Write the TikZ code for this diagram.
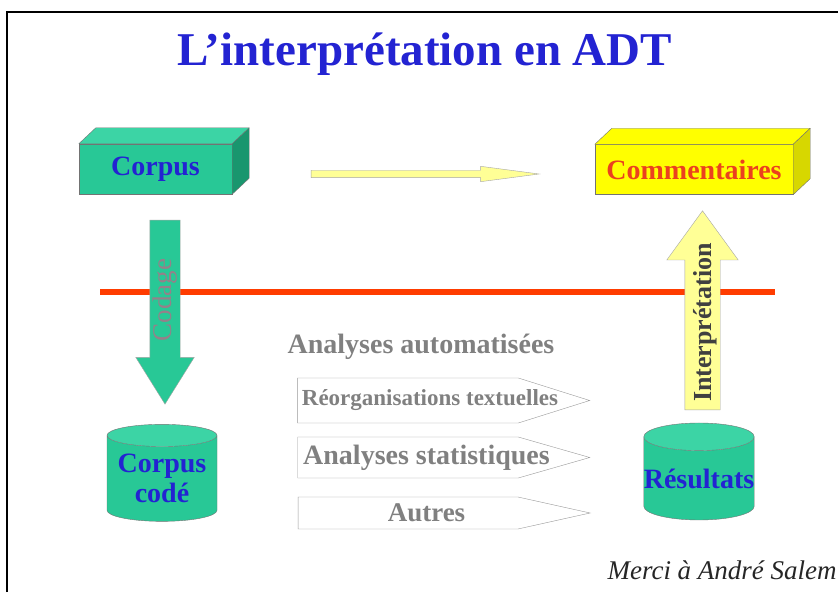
\documentclass[tikz,border=0pt]{standalone}
\usepackage{fontspec}
\setmainfont{Liberation Serif}
\usepackage{tikz}
\usetikzlibrary{shapes.geometric}
\usetikzlibrary{shapes.arrows}
\usetikzlibrary{shapes.symbols}
\usetikzlibrary{positioning}
\definecolor{adtblue}{RGB}{35,35,210}
\definecolor{adtteal}{RGB}{40,200,150}
\definecolor{adttealdark}{RGB}{25,150,110}
\definecolor{adttealtop}{RGB}{60,212,165}
\definecolor{adtyellow}{RGB}{255,255,0}
\definecolor{adtyellowdark}{RGB}{215,215,0}
\definecolor{adtpale}{RGB}{255,255,150}
\definecolor{adtred}{RGB}{235,65,30}
\definecolor{adtline}{RGB}{255,60,0}
\definecolor{adtgray}{RGB}{128,128,128}
\definecolor{adtmauve}{RGB}{150,128,138}
\tikzstyle{boxfront} = [rectangle, minimum height=50pt, inner sep=0pt, draw=black!55, font=\fontsize{28}{30}\selectfont\bfseries]
\tikzstyle{boxface} = [draw=black!55, line join=round]
\tikzstyle{store} = [cylinder, shape border rotate=90, aspect=0.25, draw=black!55, cylinder uses custom fill, cylinder body fill=adtteal, cylinder end fill=adttealtop, text=adtblue, align=center, inner sep=0pt, font=\fontsize{28}{30}\selectfont\bfseries]
\tikzstyle{bigarrow} = [single arrow, draw=black!35, inner xsep=0pt]
\tikzstyle{tagbox} = [signal, draw=adtgray!80, fill=white, inner sep=0pt, minimum width=292pt]
\tikzstyle{tagtext} = [text=adtgray, inner sep=0pt]

\begin{document}
\begin{tikzpicture}[x=1pt, y=1pt]
            \useasboundingbox (0,0) rectangle (838,592);
            \clip (0,0) rectangle (838,592);
            \fill[white] (0,0) rectangle (838,592);
            \draw[line width=2pt] (7,0) -- (7,580) -- (838,580);

            \node (title) [text=adtblue, font=\fontsize{47}{50}\selectfont\bfseries] at (425,538) {L’interprétation en ADT};

            % boites du haut
            \node (corpus) [boxfront, fill=adtteal, minimum width=153pt, text=adtblue] at (155.5,423) {Corpus};
            \filldraw[boxface, fill=adttealtop] (corpus.north west) -- ++(17,16) -- ([shift={(17,16)}]corpus.north east) -- (corpus.north east) -- cycle;
            \filldraw[boxface, fill=adttealdark] (corpus.north east) -- ++(17,16) -- ([shift={(17,16)}]corpus.south east) -- (corpus.south east) -- cycle;
            \node (comment) [boxfront, fill=adtyellow, minimum width=198pt, text=adtred] at (694,422.5) {Commentaires};
            \filldraw[boxface, fill=adtyellow] (comment.north west) -- ++(17,16) -- ([shift={(17,16)}]comment.north east) -- (comment.north east) -- cycle;
            \filldraw[boxface, fill=adtyellowdark] (comment.north east) -- ++(17,16) -- ([shift={(17,16)}]comment.south east) -- (comment.south east) -- cycle;
            \node (flow) [bigarrow, fill=adtpale, minimum height=228pt, inner ysep=3.5pt, single arrow head extend=4pt, single arrow tip angle=15] at (411,418) {};

            % ligne rouge
            \coordinate (lineL) at (100,300);
            \coordinate (lineR) at (775,300);
            \draw[adtline, line width=6pt] (lineL) -- (lineR);

            % fleches verticales
            \node (codage) [bigarrow, fill=adtteal, rotate=-90, minimum height=184pt, inner ysep=15pt, single arrow head extend=14pt, single arrow tip angle=64] at (165,292) {};
            \node (codagetxt) [rotate=90, text=adtmauve, font=\fontsize{27}{29}\selectfont] at (165,292) {Codage};
            \node (interp) [bigarrow, fill=adtpale, rotate=90, minimum height=199pt, text height=24pt, text depth=7pt, inner ysep=2pt, single arrow head extend=18pt, single arrow tip angle=72, text=black!75, font=\fontsize{26}{28}\selectfont\bfseries] at (702.5,269.5) {Interprétation};

            % analyses
            \node (auto) [tagtext, font=\fontsize{28}{30}\selectfont\bfseries] at (421,245) {Analyses automatisées};
            \node (reorg) [tagbox, minimum height=45pt, signal pointer angle=35] at (408,191.5) {};
            \node (reorgtxt) [tagtext, font=\fontsize{23}{25}\selectfont\bfseries] at (430,191.5) {Réorganisations textuelles};
            \node (stat) [tagbox, minimum height=41pt, signal pointer angle=32] at (408,134.5) {};
            \node (stattxt) [tagtext, font=\fontsize{28}{30}\selectfont\bfseries] at (426.5,134.5) {Analyses statistiques};
            \node (other) [tagbox, minimum height=32pt, signal pointer angle=25] at (408,79) {};
            \node (othertxt) [tagtext, font=\fontsize{27}{29}\selectfont\bfseries] at (426.5,79) {Autres};

            % cylindres
            \node (coded) [store, minimum width=110pt, minimum height=97pt] at (162,113.5) {Corpus\\codé};
            \node (result) [store, minimum width=108pt, minimum height=97pt] at (699,113.5) {Résultats};

            \node (merci) [anchor=base west, text=black!85, font=\fontsize{27}{29}\selectfont\itshape] at (604,13) {Merci à André Salem};
        \end{tikzpicture}
\end{document}
